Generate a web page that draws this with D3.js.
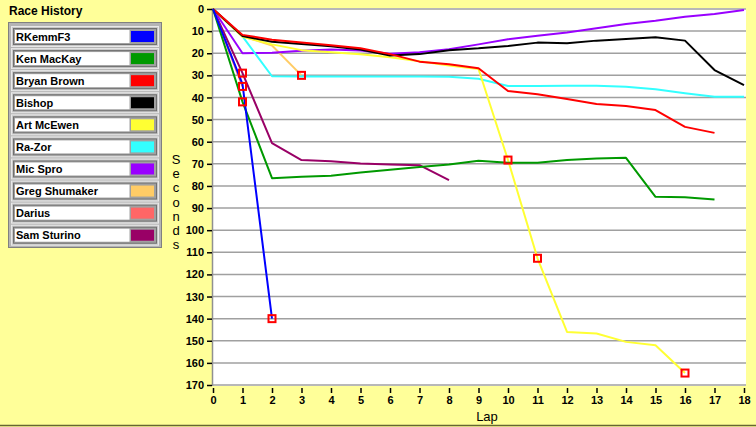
<!DOCTYPE html>
<html>
<head>
<meta charset="utf-8">
<script src="https://cdn.jsdelivr.net/npm/d3@7"></script>
<style>
  body { margin: 0; background: #FFFF99; }
  svg { display: block; font-family: "Liberation Sans", Arial, sans-serif; }
</style>
</head>
<body>
<script>
// race history data: cumulative seconds behind leader, one value per lap starting at lap 0
var drivers = ["RKemmF3", "Ken MacKay", "Bryan Brown", "Bishop", "Art McEwen",
               "Ra-Zor", "Mic Spro", "Greg Shumaker", "Darius", "Sam Sturino"];
var colors = ["#0000FF", "#009900", "#FF0000", "#000000", "#FFFF33",
              "#33FFFF", "#9900FF", "#FFCC66", "#FF6666", "#990066"];

var rkemm  = [0, 34, 140];
var ken    = [0, 42, 76.5, 75.8, 75.4, 73.9, 72.7, 71.4, 70.3, 68.6, 69.5, 69.5, 68.3, 67.6, 67.3, 84.9, 85.1, 86.1];
var bryan  = [0, 11.7, 13.9, 15.2, 16.4, 17.7, 20.4, 23.8, 25, 26.8, 37.1, 38.5, 40.7, 43, 43.9, 45.7, 53.3, 56];
var bishop = [0, 12.2, 14.8, 15.8, 16.8, 18.3, 21, 20.4, 18.6, 17.8, 16.7, 15.2, 15.5, 14.3, 13.6, 12.8, 14.3, 27.6, 34.4];
var art    = [0, 12.6, 16, 18.6, 19.5, 20.5, 21.8, 23.6, 25.6, 27.1, 68.3, 112.7, 146, 146.7, 150.5, 152, 164.6];
var razor  = [0, 12.4, 30.4, 30.5, 30.5, 30.5, 30.5, 30.5, 30.6, 31.5, 34.8, 34.8, 34.7, 34.7, 35.1, 36.3, 38.1, 39.7, 39.7];
var micspro= [0, 20, 19.8, 18.9, 18.3, 18.8, 20.2, 19.6, 18.2, 16, 13.7, 12.1, 10.6, 8.7, 6.8, 5.3, 3.5, 2.3, 0.5];
var greg   = [0, 12.3, 16.5, 30];
var darius = [0, 35];
var sam    = [0, 29, 60.6, 68.3, 68.8, 69.8, 70.3, 70.6, 77.4];

var series = [rkemm, ken, bryan, bishop, art, razor, micspro, greg, darius, sam];

// red square markers: [driver index, lap]
var markers = [[0, 2], [4, 10], [4, 11], [4, 16], [7, 3], [9, 1], [8, 1], [1, 1]];

var lapTicks = d3.range(0, 19);
var secTicks = d3.range(0, 171, 10);

var width = 756, height = 427;
var plotLeft = 213, plotRight = 744, plotTop = 9, plotBottom = 385;

var svg = d3.select('body')
            .append('svg')
            .attr('width', width)
            .attr('height', height);

var x = d3.scaleLinear().domain([0, 18]).range([plotLeft, plotRight]);
var y = d3.scaleLinear().domain([0, 170]).range([plotTop, plotBottom]);

// plot background
svg.append('rect')
   .attr('x', plotLeft).attr('y', plotTop - 1)
   .attr('width', 746 - plotLeft).attr('height', plotBottom - plotTop + 2)
   .attr('fill', '#FFFFFF');

// grid lines
svg.append('g')
   .selectAll('line')
   .data(secTicks)
   .enter()
   .append('line')
   .attr('x1', plotLeft).attr('x2', 746)
   .attr('y1', function(d) { return y(d); })
   .attr('y2', function(d) { return y(d); })
   .attr('stroke', '#A0A0A0')
   .attr('stroke-width', 1.5);

// left axis line
svg.append('line')
   .attr('x1', plotLeft - 0.5).attr('x2', plotLeft - 0.5)
   .attr('y1', plotTop - 1).attr('y2', plotBottom + 1)
   .attr('stroke', '#909090')
   .attr('stroke-width', 1.5);

// y axis
var yAxis = d3.axisLeft(y).tickValues(secTicks).tickSize(5).tickPadding(3);
var gy = svg.append('g')
   .attr('transform', 'translate(' + (plotLeft - 1) + ',0)')
   .call(yAxis);
gy.select('.domain').remove();
gy.selectAll('line').attr('stroke', '#000').attr('stroke-width', 1.5);
gy.selectAll('text')
  .attr('font-size', 11).attr('font-weight', 'bold').attr('fill', '#000');

// x axis
var xAxis = d3.axisBottom(x).tickValues(lapTicks).tickSize(5).tickPadding(3);
var gx = svg.append('g')
   .attr('transform', 'translate(0,' + (plotBottom + 3) + ')')
   .call(xAxis);
gx.select('.domain').remove();
gx.selectAll('line').attr('stroke', '#000').attr('stroke-width', 1.5);
gx.selectAll('text')
  .attr('font-size', 11).attr('font-weight', 'bold').attr('fill', '#000');

// axis titles
svg.append('text')
   .attr('x', 487).attr('y', 421)
   .attr('text-anchor', 'middle')
   .attr('font-size', 13)
   .text('Lap');

var letters = 'Seconds'.split('');
svg.append('g')
   .selectAll('text')
   .data(letters)
   .enter()
   .append('text')
   .attr('x', 176)
   .attr('y', function(d, i) { return 164 + i * 14.2; })
   .attr('text-anchor', 'middle')
   .attr('font-size', 13)
   .text(function(d) { return d; });

// lines
var line = d3.line()
   .x(function(d, i) { return x(i); })
   .y(function(d) { return y(d); });

for (var t = series.length - 1; t >= 0; t--) {
    svg.append('path')
       .attr('fill', 'none')
       .attr('stroke', colors[t])
       .attr('stroke-width', 2)
       .attr('stroke-linejoin', 'round')
       .attr('d', line(series[t]));
}

// markers
svg.append('g')
   .selectAll('rect')
   .data(markers)
   .enter()
   .append('rect')
   .attr('x', function(d) { return x(d[1]) - 3.5; })
   .attr('y', function(d) { return y(series[d[0]][d[1]]) - 3.5; })
   .attr('width', 7).attr('height', 7)
   .attr('fill', 'none')
   .attr('stroke', '#FF0000')
   .attr('stroke-width', 2);

// legend
svg.append('text')
   .attr('x', 9).attr('y', 15)
   .attr('font-size', 12).attr('font-weight', 'bold')
   .text('Race History');

svg.append('rect')
   .attr('x', 8.5).attr('y', 22.5)
   .attr('width', 153).attr('height', 225)
   .attr('fill', '#B4B4B4')
   .attr('stroke', '#808080');

var rowH = 22.08;
var rows = svg.append('g')
   .selectAll('g')
   .data(drivers)
   .enter()
   .append('g')
   .attr('transform', function(d, i) { return 'translate(0,' + (26 + i * rowH) + ')'; });

rows.append('rect')
   .attr('x', 11.5).attr('y', 0.5)
   .attr('width', 147).attr('height', 20)
   .attr('fill', '#C8C8C8')
   .attr('stroke', '#E8E8E8');
rows.append('rect')
   .attr('x', 13.5).attr('y', 2.5)
   .attr('width', 143).attr('height', 16)
   .attr('fill', '#A0A0A0')
   .attr('stroke', '#707070');
rows.append('rect')
   .attr('x', 15).attr('y', 4)
   .attr('width', 114.5).attr('height', 13)
   .attr('fill', '#FFFFFF');
rows.append('rect')
   .attr('x', 131).attr('y', 5)
   .attr('width', 23).attr('height', 11)
   .attr('fill', function(d, i) { return colors[i]; });
rows.append('text')
   .attr('x', 16).attr('y', 14.5)
   .attr('font-size', 11).attr('font-weight', 'bold')
   .text(function(d) { return d; });

// bottom border
svg.append('line')
   .attr('x1', 0).attr('x2', width)
   .attr('y1', 425.5).attr('y2', 425.5)
   .attr('stroke', '#666633')
   .attr('stroke-width', 1.5);
</script>
</body>
</html>
